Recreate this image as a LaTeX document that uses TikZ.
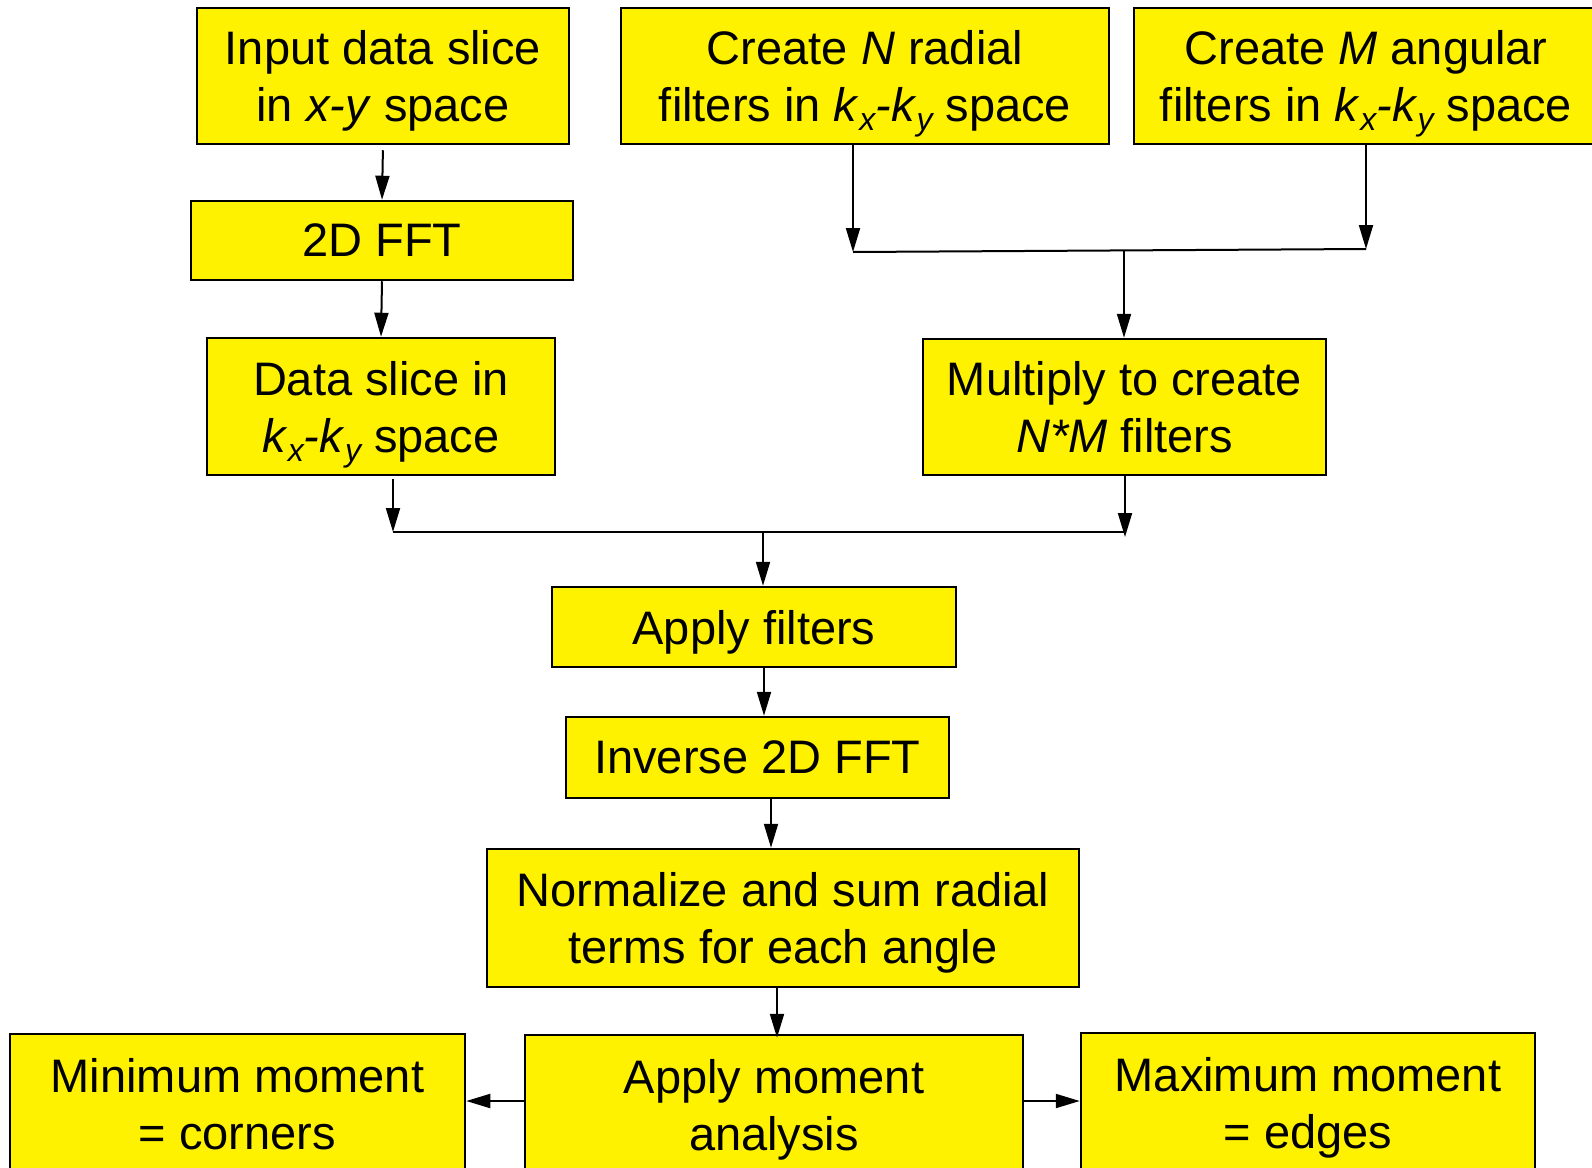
\documentclass[tikz,border=0pt]{standalone}
\usepackage{fontspec}
\setmainfont{Liberation Sans}
\usetikzlibrary{arrows.meta}
\newcommand{\lowsub}[1]{\raisebox{-9pt}{\fontsize{32}{32}\selectfont\itshape #1}}
\newcommand{\kxky}{\textit{k}\lowsub{x}\textit{-k}\lowsub{y}}
\begin{document}
\begin{tikzpicture}[x=1pt,y=-1pt,
  box/.style={draw=black, line width=2.5pt, fill=yellow, align=center, inner sep=0pt,
    text depth=0pt, font=\fontsize{47}{57}\selectfont},
  conn/.style={line width=2pt, draw=black},
  arr/.style={conn, -{Triangle[length=24pt,width=14pt]}}]
\fill[white] (0,0) rectangle (1592,1167);
\useasboundingbox (0,0) rectangle (1592,1167);
% nodes
\node[box, minimum width=372, minimum height=136] (inp) at (383,76) {Input data slice\\in \textit{x-y} space};
\node[box, minimum width=382, minimum height=79] (fft) at (382,240.5) {2D FFT};
\node[box, minimum width=348, minimum height=137] (dsl) at (381,406.5) {Data slice in\\\kxky{} space};
\node[box, minimum width=488, minimum height=136] (crN) at (865,76) {Create \textit{N} radial\\filters in \kxky{} space};
\node[box, minimum width=464, minimum height=136] (crM) at (1366,76) {Create \textit{M} angular\\filters in \kxky{} space};
\node[box, minimum width=403, minimum height=136] (mul) at (1124.5,407) {Multiply to create\\\textit{N*M} filters};
\node[box, minimum width=404, minimum height=80] (apf) at (754,627) {Apply filters};
\node[box, minimum width=383, minimum height=81] (inv) at (757.5,757.5) {Inverse 2D FFT};
\node[box, minimum width=592, minimum height=138] (nrm) at (783,918) {Normalize and sum radial\\terms for each angle};
\node[box, minimum width=455, minimum height=140] (minm) at (237.5,1104) {Minimum moment\\= corners};
\node[box, minimum width=498, minimum height=140] (amo) at (774,1105) {Apply moment\\analysis};
\node[box, minimum width=454, minimum height=140] (maxm) at (1308,1103) {Maximum moment\\= edges};
% junctions
\coordinate (ja) at (853,252);
\coordinate (jb) at (1366,249);
\coordinate (jm) at (1124,250);
\coordinate (jc) at (393,532);
\coordinate (jd) at (1125,532);
\coordinate (je) at (763,532);
% connectors
\draw[arr, shorten <=5pt] (inp.south) -- (fft.north);
\draw[arr] (fft.south) -- (dsl.north);
\draw[arr] (crN.south -| ja) -- (ja);
\draw[arr] (crM.south -| jb) -- (jb);
\draw[conn] (ja) -- (jb);
\draw[arr] (jm) -- (mul.north -| jm);
\draw[arr, shorten <=3pt] (dsl.south -| jc) -- (jc);
\draw[arr] (mul.south -| jd) -- ([yshift=-5pt]jd);
\draw[conn] (jc) -- (jd);
\draw[arr] (je) -- (apf.north -| je);
\draw[arr] ([xshift=10pt]apf.south) -- ([xshift=10pt]apf.south |- inv.north);
\draw[arr] ([xshift=13.5pt]inv.south) -- ([xshift=13.5pt]inv.south |- nrm.north);
\draw[arr] ([xshift=3pt]amo.north |- nrm.south) -- ([xshift=3pt,yshift=-4pt]amo.north);
\draw[arr] ([yshift=4pt]amo.west) -- ([yshift=4pt]amo.west -| minm.east);
\draw[arr] ([yshift=4pt]amo.east) -- ([yshift=4pt]amo.east -| maxm.west);
\end{tikzpicture}
\end{document}
